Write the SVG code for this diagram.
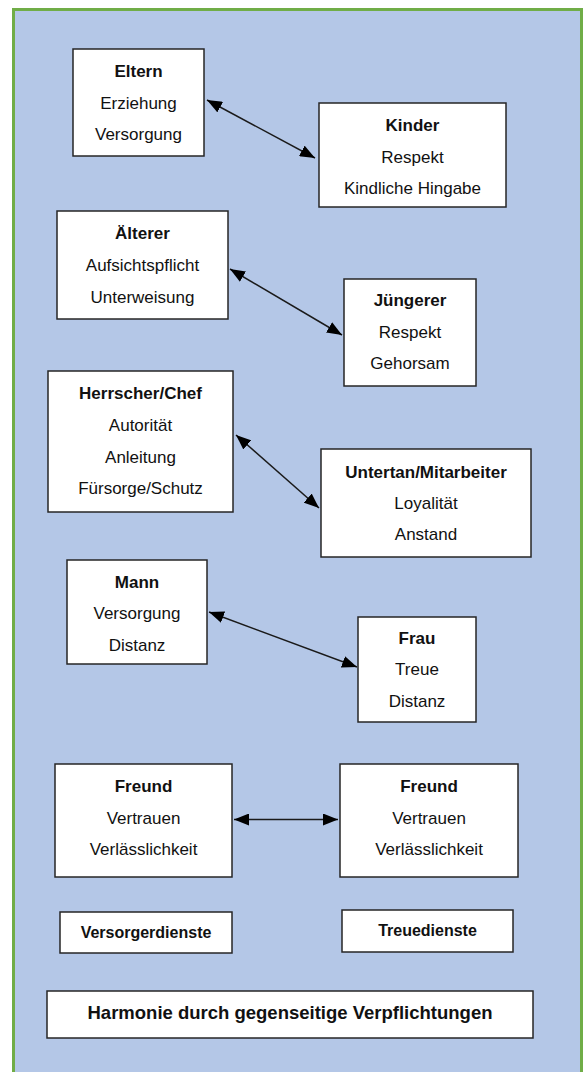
<svg xmlns="http://www.w3.org/2000/svg" width="584" height="1072" viewBox="0 0 584 1072">
<style>
.box{fill:#fff;stroke:#262626;stroke-width:1.5}
text{font-family:"Liberation Sans",Arial,sans-serif;font-size:17px;fill:#111;text-anchor:middle}
.t{font-weight:bold}
.s{font-weight:bold;font-size:16px}
.h{font-weight:bold;font-size:18.5px}
.c{stroke:#1a1a1a;stroke-width:1.5;fill:none;marker-start:url(#ah);marker-end:url(#ah)}
</style>
<defs>
<marker id="ah" viewBox="0 0 15 12" refX="15" refY="6" markerWidth="15" markerHeight="12" markerUnits="userSpaceOnUse" orient="auto-start-reverse">
<path d="M0,0 L15,6 L0,12 z" fill="#000"/>
</marker>
</defs>
<rect x="0" y="0" width="584" height="1072" fill="#fff"/>
<rect id="frame" x="13.5" y="9.5" width="568" height="1080" fill="#B4C7E7" stroke="#70AD47" stroke-width="3"/>
<g id="connectors">
<line class="c" x1="207" y1="100" x2="315" y2="158"/>
<line class="c" x1="230" y1="269" x2="342" y2="335"/>
<line class="c" x1="236" y1="435" x2="319" y2="508"/>
<line class="c" x1="209" y1="612" x2="357" y2="667"/>
<line class="c" x1="234" y1="819.5" x2="338" y2="819.5"/>
</g>
<g id="eltern"><rect class="box" x="73" y="49" width="131" height="107"/>
<text class="t" x="138.5" y="77">Eltern</text><text x="138.5" y="108.5">Erziehung</text><text x="138.5" y="140">Versorgung</text></g>
<g id="kinder"><rect class="box" x="319" y="103" width="187" height="104"/>
<text class="t" x="412.5" y="131">Kinder</text><text x="412.5" y="163">Respekt</text><text x="412.5" y="194">Kindliche Hingabe</text></g>
<g id="aelterer"><rect class="box" x="57" y="211" width="171" height="108"/>
<text class="t" x="142.5" y="239">Älterer</text><text x="142.5" y="271">Aufsichtspflicht</text><text x="142.5" y="303">Unterweisung</text></g>
<g id="juengerer"><rect class="box" x="344" y="279" width="132" height="107"/>
<text class="t" x="410" y="306">Jüngerer</text><text x="410" y="338">Respekt</text><text x="410" y="369">Gehorsam</text></g>
<g id="herrscher"><rect class="box" x="48" y="371" width="185" height="141"/>
<text class="t" x="140.5" y="399">Herrscher/Chef</text><text x="140.5" y="431">Autorität</text><text x="140.5" y="463">Anleitung</text><text x="140.5" y="494">Fürsorge/Schutz</text></g>
<g id="untertan"><rect class="box" x="321" y="449" width="210" height="108"/>
<text class="t" x="426" y="478">Untertan/Mitarbeiter</text><text x="426" y="509">Loyalität</text><text x="426" y="540">Anstand</text></g>
<g id="mann"><rect class="box" x="67" y="560" width="140" height="104"/>
<text class="t" x="137" y="588">Mann</text><text x="137" y="619">Versorgung</text><text x="137" y="651">Distanz</text></g>
<g id="frau"><rect class="box" x="358" y="617" width="118" height="105"/>
<text class="t" x="417" y="644">Frau</text><text x="417" y="675">Treue</text><text x="417" y="707">Distanz</text></g>
<g id="freund1"><rect class="box" x="55" y="764" width="177" height="113"/>
<text class="t" x="143.5" y="792">Freund</text><text x="143.5" y="824">Vertrauen</text><text x="143.5" y="855">Verlässlichkeit</text></g>
<g id="freund2"><rect class="box" x="340" y="764" width="178" height="113"/>
<text class="t" x="429" y="792">Freund</text><text x="429" y="824">Vertrauen</text><text x="429" y="855">Verlässlichkeit</text></g>
<g id="versorgerdienste"><rect class="box" x="60" y="912" width="172" height="41"/>
<text class="s" x="146" y="938">Versorgerdienste</text></g>
<g id="treuedienste"><rect class="box" x="342" y="910" width="171" height="42"/>
<text class="s" x="427.5" y="936">Treuedienste</text></g>
<g id="harmonie"><rect class="box" x="47" y="991" width="486" height="47"/>
<text class="h" x="290" y="1019">Harmonie durch gegenseitige Verpflichtungen</text></g>
</svg>
